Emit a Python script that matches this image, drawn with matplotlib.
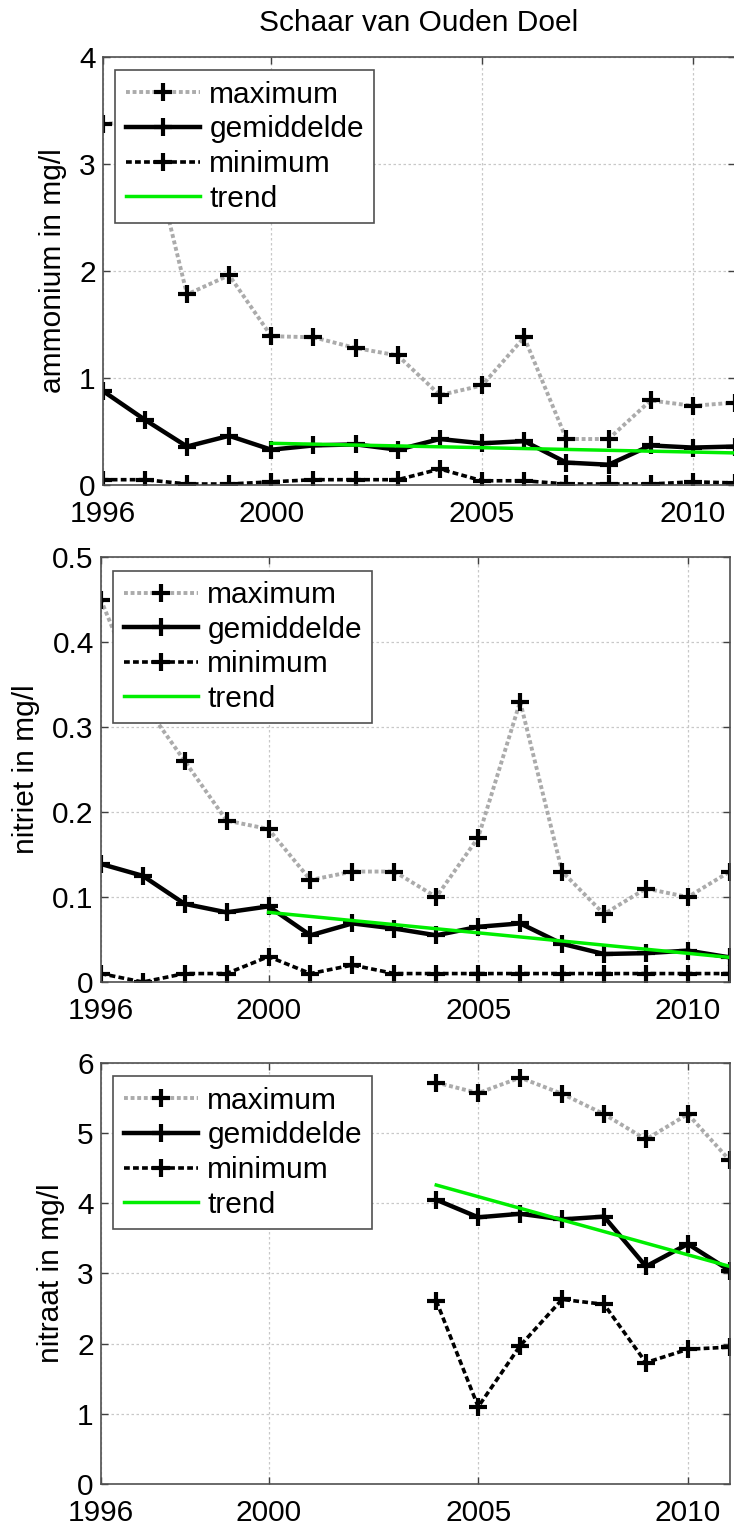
import numpy as np
import matplotlib
matplotlib.use('Agg')
import matplotlib.pyplot as plt

plt.rcParams['font.family'] = ['Liberation Sans', 'DejaVu Sans']

# Data
years = np.arange(1996, 2012)

amm_max = [3.37, 3.40, 1.78, 1.96, 1.39, 1.38, 1.28, 1.21, 0.84, 0.93, 1.38, 0.43, 0.43, 0.79, 0.74, 0.77]
amm_mean = [0.88, 0.61, 0.36, 0.46, 0.33, 0.37, 0.38, 0.33, 0.43, 0.39, 0.41, 0.21, 0.19, 0.37, 0.35, 0.36]
amm_min = [0.05, 0.05, 0.01, 0.01, 0.03, 0.05, 0.05, 0.05, 0.15, 0.04, 0.04, 0.01, 0.01, 0.01, 0.03, 0.02]
amm_trend_x = [2000, 2011]
amm_trend = [0.39, 0.30]

nit_max = [0.45, 0.33, 0.26, 0.19, 0.18, 0.12, 0.13, 0.13, 0.10, 0.17, 0.33, 0.13, 0.08, 0.11, 0.10, 0.13]
nit_mean = [0.139, 0.125, 0.092, 0.082, 0.089, 0.055, 0.069, 0.063, 0.055, 0.065, 0.069, 0.045, 0.033, 0.034, 0.037, 0.029]
nit_min = [0.01, 0.0, 0.01, 0.01, 0.03, 0.01, 0.02, 0.01, 0.01, 0.01, 0.01, 0.01, 0.01, 0.01, 0.01, 0.01]
nit_trend_x = [2000, 2011]
nit_trend = [0.082, 0.029]

nitraat_years = np.arange(2004, 2012)
nra_max = [5.72, 5.57, 5.79, 5.56, 5.27, 4.91, 5.27, 4.61]
nra_mean = [4.05, 3.80, 3.85, 3.77, 3.81, 3.10, 3.42, 3.04]
nra_min = [2.61, 1.10, 1.97, 2.63, 2.56, 1.73, 1.92, 1.95]
nra_trend_x = [2004, 2011]
nra_trend = [4.26, 3.10]

panels = [
    ('ammonium in mg/l', years, amm_max, amm_mean, amm_min, amm_trend_x, amm_trend, 4, [0, 1, 2, 3, 4], ['0', '1', '2', '3', '4']),
    ('nitriet in mg/l', years, nit_max, nit_mean, nit_min, nit_trend_x, nit_trend, 0.5,
     [0, 0.1, 0.2, 0.3, 0.4, 0.5], ['0', '0.1', '0.2', '0.3', '0.4', '0.5']),
    ('nitraat in mg/l', nitraat_years, nra_max, nra_mean, nra_min, nra_trend_x, nra_trend, 6,
     [0, 1, 2, 3, 4, 5, 6], ['0', '1', '2', '3', '4', '5', '6']),
]

positions = [
    [0.1399, 0.6838, 0.8614, 0.2792],
    [0.1373, 0.3598, 0.8570, 0.2771],
    [0.1373, 0.0326, 0.8570, 0.2745],
]

fig = plt.figure(figsize=(7.34, 15.34), dpi=100)
FS = 21.5

for pos, (ylabel, xs, ymax, ymean, ymin, tx, ty, top, yt, ytl) in zip(positions, panels):
    ax = fig.add_axes(pos)
    ax.plot(xs, ymax, color='#ababab', linestyle=(0, (1.0, 0.7)), lw=2.8,
            marker='+', markersize=13, markeredgewidth=3, markeredgecolor='black', label='maximum')
    ax.plot(xs, ymean, color='black', lw=3.2,
            marker='+', markersize=13, markeredgewidth=3, markeredgecolor='black', label='gemiddelde')
    ax.plot(xs, ymin, color='black', linestyle=(0, (1.6, 0.9)), lw=2.6,
            marker='+', markersize=13, markeredgewidth=3, markeredgecolor='black', label='minimum')
    ax.plot(tx, ty, color='#00ee00', lw=2.5, label='trend')

    ax.set_xlim(1996, 2011)
    ax.set_ylim(0, top)
    ax.set_xticks([1996, 2000, 2005, 2010])
    ax.set_xticklabels(['1996', '2000', '2005', '2010'])
    ax.set_yticks(yt)
    ax.set_yticklabels(ytl)
    ax.grid(True, color='#c8c8c8', linestyle=(0, (2, 2)), lw=0.9)
    ax.tick_params(direction='in', length=5, width=1, top=True, right=True,
                   labelsize=FS, color='#404040')
    ax.tick_params(axis='x', pad=10.5)
    ax.tick_params(axis='y', pad=5)
    for sp in ax.spines.values():
        sp.set_color('#505050')
        sp.set_linewidth(1.2)
    ax.set_ylabel(ylabel, fontsize=FS, labelpad=9)

    leg = ax.legend(loc='upper left', bbox_to_anchor=(0.02, 0.968), borderaxespad=0,
                    fontsize=FS, handlelength=2.5, handletextpad=0.3, labelspacing=0.22,
                    borderpad=0.35, fancybox=False, framealpha=1, edgecolor='#505050')
    leg.get_frame().set_linewidth(1.2)

fig.text(0.57, 0.985, 'Schaar van Ouden Doel', ha='center', va='center', fontsize=FS)

fig.savefig('out.png', dpi=100)
